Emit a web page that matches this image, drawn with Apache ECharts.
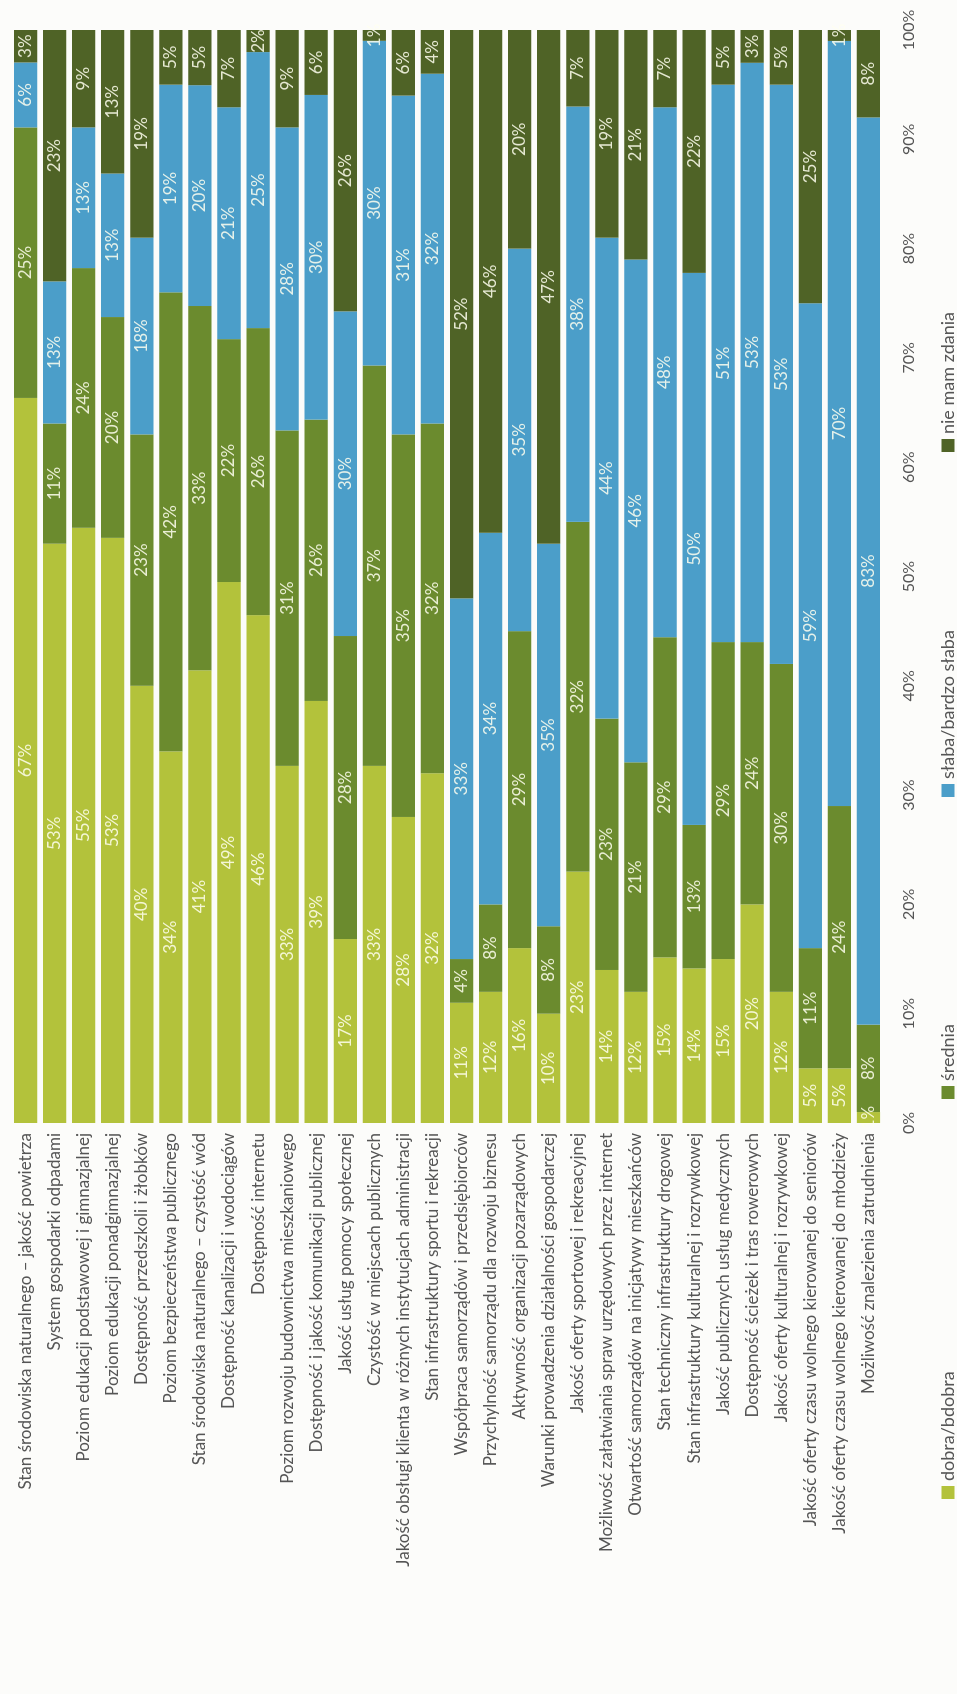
<!DOCTYPE html>
<html>
<head>
<meta charset="utf-8">
<script src="https://cdn.jsdelivr.net/npm/echarts@6/dist/echarts.min.js"></script>
<style>
  html, body { margin: 0; padding: 0; background: #fcfcfa; }
  #page { position: relative; width: 957px; height: 1694px; overflow: hidden; }
  #chart { position: absolute; left: 0; top: 0; width: 1694px; height: 957px;
           transform-origin: 0 0; transform: translateY(1694px) rotate(-90deg); }
</style>
</head>
<body>
<div id="page"><div id="chart"></div></div>
<script>
const categories = [
  'Stan środowiska naturalnego – jakość powietrza',
  'System gospodarki odpadami',
  'Poziom edukacji podstawowej i gimnazjalnej',
  'Poziom edukacji ponadgimnazjalnej',
  'Dostępność przedszkoli i żłobków',
  'Poziom bezpieczeństwa publicznego',
  'Stan środowiska naturalnego – czystość wód',
  'Dostępność kanalizacji i wodociągów',
  'Dostępność internetu',
  'Poziom rozwoju budownictwa mieszkaniowego',
  'Dostępność i jakość komunikacji publicznej',
  'Jakość usług pomocy społecznej',
  'Czystość w miejscach publicznych',
  'Jakość obsługi klienta w różnych instytucjach administracji',
  'Stan infrastruktury sportu i rekreacji',
  'Współpraca samorządów i przedsiębiorców',
  'Przychylność samorządu dla rozwoju biznesu',
  'Aktywność organizacji pozarządowych',
  'Warunki prowadzenia działalności gospodarczej',
  'Jakość oferty sportowej i rekreacyjnej',
  'Możliwość załatwiania spraw urzędowych przez internet',
  'Otwartość samorządów na inicjatywy mieszkańców',
  'Stan techniczny infrastruktury drogowej',
  'Stan infrastruktury kulturalnej i rozrywkowej',
  'Jakość publicznych usług medycznych',
  'Dostępność ścieżek i tras rowerowych',
  'Jakość oferty kulturalnej i rozrywkowej',
  'Jakość oferty czasu wolnego kierowanej do seniorów',
  'Jakość oferty czasu wolnego kierowanej do młodzieży',
  'Możliwość znalezienia zatrudnienia'
];
const dobra   = [67,53,55,53,40,34,41,49,46,33,39,17,33,28,32,11,12,16,10,23,14,12,15,14,15,20,12,5,5,1];
const srednia = [25,11,24,20,23,42,33,22,26,31,26,28,37,35,32,4,8,29,8,32,23,21,29,13,29,24,30,11,24,8];
const slaba   = [6,13,13,13,18,19,20,21,25,28,30,30,30,31,32,33,34,35,35,38,44,46,48,50,51,53,53,59,70,83];
const brak    = [3,23,9,13,19,5,5,7,2,9,6,26,1,6,4,52,46,20,47,7,19,21,7,22,5,3,5,25,1,8];
const seriesNames = ['dobra/bdobra', 'średnia', 'słaba/bardzo słaba', 'nie mam zdania'];
const valueTicks = [0,10,20,30,40,50,60,70,80,90,100];

const raw = [dobra, srednia, slaba, brak];
const colors = ['#b3c23b', '#6b8b2e', '#4b9ec9', '#4f6326'];
const rowTotals = categories.map((c, i) => raw.reduce((s, arr) => s + arr[i], 0));
const FONT = "Lato, 'Open Sans', sans-serif";

const chart = echarts.init(document.getElementById('chart'));
const series = raw.map((arr, k) => ({
  name: seriesNames[k],
  type: 'bar',
  stack: 'total',
  barCategoryGap: '20%',
  itemStyle: { color: colors[k] },
  label: {
    show: true, position: 'inside',
    color: 'rgba(255,255,240,0.85)', fontSize: 17, fontFamily: FONT,
    formatter: p => arr[p.dataIndex] + '%'
  },
  data: arr.map((v, i) => v * 100 / rowTotals[i])
}));
const legendPos = [190, 590, 892, 1237];
const legends = seriesNames.map((n, k) => ({
  data: [n], left: legendPos[k], top: 934,
  icon: 'rect', itemWidth: 13, itemHeight: 13, itemGap: 0,
  textStyle: { fontSize: 18, color: '#555', fontFamily: FONT },
  selectedMode: false
}));
chart.setOption({
  animation: false,
  color: colors,
  legend: legends,
  grid: { left: 571, right: 30, top: 11, bottom: 74, containLabel: false },
  xAxis: {
    type: 'value', min: valueTicks[0], max: valueTicks[valueTicks.length - 1],
    interval: valueTicks[1] - valueTicks[0],
    axisLine: { show: false }, axisTick: { show: false }, splitLine: { show: false },
    axisLabel: { formatter: '{value}%', fontSize: 16, color: '#555', margin: 18, fontFamily: FONT }
  },
  yAxis: {
    type: 'category', data: categories, inverse: true,
    axisLine: { show: false }, axisTick: { show: false },
    axisLabel: { fontSize: 17, color: '#555', margin: 10, fontFamily: FONT }
  },
  series: series
});
</script>
</body>
</html>
